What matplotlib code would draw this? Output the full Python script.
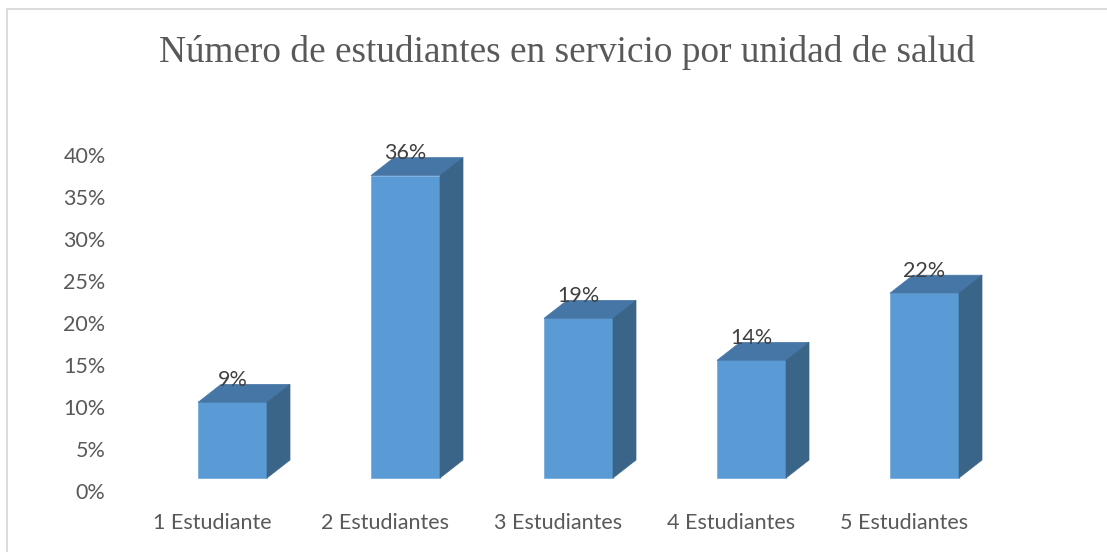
import matplotlib.pyplot as plt
import numpy as np
from matplotlib.patches import Polygon, Rectangle

# data
categories = ['1 Estudiante', '2 Estudiantes', '3 Estudiantes', '4 Estudiantes', '5 Estudiantes']
values = [9, 36, 19, 14, 22]
labels = ['9%', '36%', '19%', '14%', '22%']
yticks = [0, 5, 10, 15, 20, 25, 30, 35, 40]

W, H = 1107, 552
fig = plt.figure(figsize=(W / 100, H / 100), dpi=100)

# chart border (light grey, runs off right/bottom edge)
fig.patches.append(Rectangle((7 / W, -0.05), 1.2, 1 - 9 / H + 0.05,
                             transform=fig.transFigure, fill=False,
                             edgecolor='#D9D9D9', linewidth=1.3))

# axes placed so 0% sits at y=493px and 40% at y=157px
step = 173.0
left = 212 - step / 2
right = left + 5 * step
ax = fig.add_axes([left / W, (H - 493) / H, (right - left) / W, (493 - 157) / H])
ax.set_xlim(-0.5, 4.5)
ax.set_ylim(0, 40)
ax.axis('off')

front_c, top_c, side_c = '#5B9BD5', '#4676A6', '#3B6588'
x0 = -14 / step   # front face left offset from category centre
bw = 69 / step    # front face width
base = 1.79       # front floor sits a bit above the 0% line
dx, dy = 23 / step, 2.14   # depth offset of the 3d box

x = np.arange(len(categories))
ax.bar(x + x0, values, width=bw, bottom=base, align='edge',
       color=front_c, edgecolor='#6FA8DC', linewidth=0.5, zorder=3)
for xi, v, lab in zip(x, values, labels):
    l = xi + x0
    r = l + bw
    t = base + v
    ax.add_patch(Polygon([(l, t), (r, t), (r + dx, t + dy), (l + dx, t + dy)],
                         closed=True, facecolor=top_c, edgecolor=top_c,
                         linewidth=0.5, zorder=3, clip_on=False))
    ax.add_patch(Polygon([(r, base), (r + dx, base + dy), (r + dx, t + dy), (r, t)],
                         closed=True, facecolor=side_c, edgecolor=side_c,
                         linewidth=0.5, zorder=3, clip_on=False))
    ax.text(l + bw / 2, t + dy + 0.55, lab, ha='center', va='center',
            fontsize=15.5, family='Lato', color='#404040', zorder=4, clip_on=False)

# y tick labels
for yt in yticks:
    ax.text(-0.5 - 20 / step, yt, f'{yt}%', ha='right', va='center',
            fontsize=15.5, family='Lato', color='#595959', clip_on=False)

# category labels
for xi, c in zip(x, categories):
    ax.text(xi, -30 / 8.4, c, ha='center', va='center',
            fontsize=15.5, family='Lato', color='#595959', clip_on=False)

fig.text(567 / W, 1 - 53 / H, 'Número de estudiantes en servicio por unidad de salud',
         ha='center', va='center', fontsize=26.8, family='Liberation Serif',
         color='#595959')

fig.savefig('out.png', dpi=100)
